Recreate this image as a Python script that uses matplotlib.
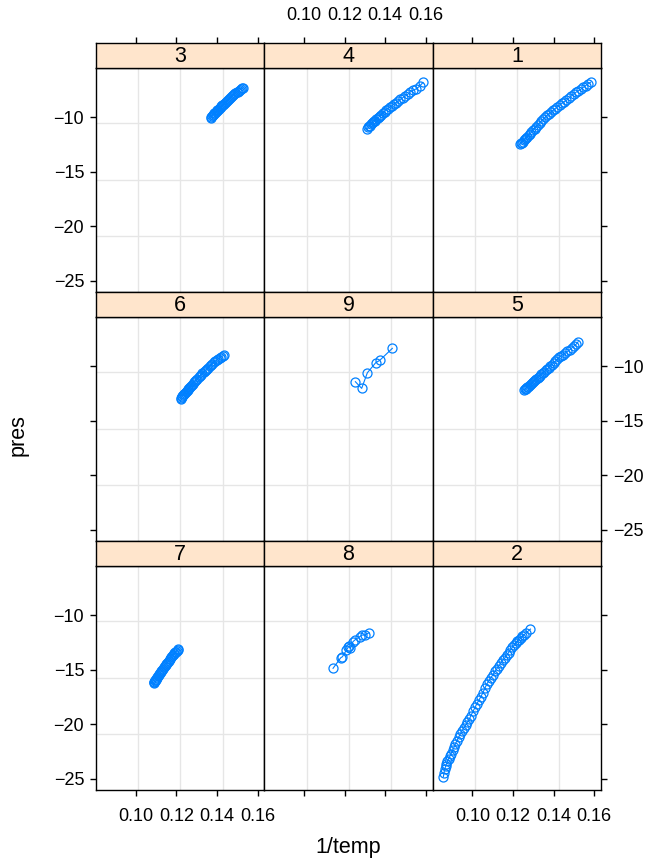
import matplotlib
matplotlib.use("Agg")
import matplotlib.pyplot as plt

plt.rcParams['font.family'] = ['Liberation Sans', 'DejaVu Sans']

# panel order as drawn: top row, middle row, bottom row
panel_order = [['3', '4', '1'], ['6', '9', '5'], ['7', '8', '2']]

# Datos (1/temp, pres) por grupo
x1 = [0.1234, 0.1238, 0.1242, 0.1247, 0.1253, 0.1258, 0.1264, 0.1270, 0.1277, 0.1284,
      0.1291, 0.1298, 0.1306, 0.1314, 0.1322, 0.1331, 0.1340, 0.1349, 0.1358, 0.1367,
      0.1377, 0.1387, 0.1397, 0.1408, 0.1418, 0.1429, 0.1440, 0.1451, 0.1463, 0.1474,
      0.1486, 0.1498, 0.1510, 0.1522, 0.1534, 0.1546, 0.1558, 0.1570, 0.1582]
y1 = [-12.48, -12.40, -12.31, -12.22, -12.10, -12.00, -11.88, -11.77, -11.63, -11.49,
      -11.34, -11.20, -11.03, -10.86, -10.69, -10.50, -10.32, -10.16, -10.00, -9.82,
      -9.67, -9.52, -9.36, -9.19, -9.04, -8.88, -8.70, -8.57, -8.43, -8.25,
      -8.06, -7.87, -7.70, -7.56, -7.42, -7.25, -7.08, -6.93, -6.78]

x2 = [0.0857, 0.0860, 0.0864, 0.0868, 0.0872, 0.0877, 0.0883, 0.0889, 0.0895, 0.0902,
      0.0909, 0.0916, 0.0924, 0.0932, 0.0940, 0.0948, 0.0957, 0.0966, 0.0975, 0.0984,
      0.0993, 0.1003, 0.1013, 0.1022, 0.1032, 0.1042, 0.1052, 0.1061, 0.1071, 0.1081,
      0.1091, 0.1101, 0.1111, 0.1121, 0.1131, 0.1141, 0.1150, 0.1160, 0.1169, 0.1178,
      0.1187, 0.1196, 0.1205, 0.1214, 0.1222, 0.1230, 0.1238, 0.1246, 0.1254, 0.1262,
      0.1286]
y2 = [-24.80, -24.45, -24.10, -23.85, -23.62, -23.40, -23.15, -22.92, -22.70, -22.40,
      -22.12, -21.80, -21.50, -21.18, -20.90, -20.62, -20.36, -20.10, -19.80, -19.55,
      -19.20, -18.80, -18.45, -18.10, -17.78, -17.45, -17.08, -16.70, -16.30, -16.00,
      -15.72, -15.45, -15.15, -14.88, -14.62, -14.36, -14.12, -13.90, -13.68, -13.42,
      -13.18, -12.95, -12.75, -12.55, -12.38, -12.22, -12.08, -11.94, -11.80, -11.65,
      -11.26]

x3 = [0.1370, 0.1373, 0.1376, 0.1379, 0.1382, 0.1385, 0.1388, 0.1391, 0.1395, 0.1398,
      0.1402, 0.1406, 0.1410, 0.1414, 0.1418, 0.1422, 0.1427, 0.1431, 0.1436, 0.1440,
      0.1445, 0.1450, 0.1455, 0.1460, 0.1465, 0.1470, 0.1475, 0.1480, 0.1486, 0.1491,
      0.1497, 0.1502, 0.1508, 0.1514, 0.1520, 0.1526, 0.1530]
y3 = [-10.02, -9.95, -9.88, -9.83, -9.76, -9.70, -9.64, -9.58, -9.50, -9.44,
      -9.37, -9.30, -9.22, -9.13, -9.06, -8.99, -8.90, -8.83, -8.73, -8.64,
      -8.55, -8.48, -8.40, -8.30, -8.20, -8.12, -8.05, -7.95, -7.86, -7.78,
      -7.70, -7.64, -7.56, -7.48, -7.40, -7.34, -7.27]

x4 = [0.1312, 0.1317, 0.1321, 0.1325, 0.1330, 0.1335, 0.1340, 0.1345, 0.1350, 0.1356,
      0.1362, 0.1368, 0.1374, 0.1381, 0.1389, 0.1397, 0.1405, 0.1414, 0.1423, 0.1432,
      0.1442, 0.1452, 0.1463, 0.1474, 0.1486, 0.1498, 0.1511, 0.1524, 0.1538, 0.1553,
      0.1569, 0.1586]
y4 = [-11.10, -10.92, -10.84, -10.75, -10.62, -10.55, -10.46, -10.36, -10.30, -10.18,
      -10.08, -9.97, -9.88, -9.75, -9.62, -9.48, -9.32, -9.20, -9.05, -8.95,
      -8.80, -8.66, -8.52, -8.36, -8.20, -8.06, -7.88, -7.66, -7.52, -7.38,
      -7.15, -6.80]

x5 = [0.1256, 0.1259, 0.1262, 0.1266, 0.1270, 0.1274, 0.1278, 0.1283, 0.1288, 0.1293,
      0.1298, 0.1303, 0.1309, 0.1315, 0.1321, 0.1327, 0.1333, 0.1340, 0.1347, 0.1354,
      0.1361, 0.1368, 0.1376, 0.1384, 0.1392, 0.1400, 0.1409, 0.1418, 0.1427, 0.1437,
      0.1447, 0.1457, 0.1468, 0.1479, 0.1490, 0.1502, 0.1512, 0.1521]
y5 = [-12.20, -12.12, -12.05, -11.98, -11.93, -11.86, -11.80, -11.72, -11.62, -11.55,
      -11.42, -11.33, -11.25, -11.15, -11.05, -10.95, -10.85, -10.72, -10.60, -10.48,
      -10.36, -10.25, -10.12, -9.98, -9.84, -9.68, -9.52, -9.36, -9.18, -9.04,
      -8.92, -8.78, -8.62, -8.48, -8.30, -8.10, -7.95, -7.74]

x6 = [0.1221, 0.1224, 0.1227, 0.1230, 0.1233, 0.1236, 0.1240, 0.1244, 0.1248, 0.1252,
      0.1256, 0.1260, 0.1264, 0.1269, 0.1274, 0.1279, 0.1284, 0.1289, 0.1294, 0.1299,
      0.1304, 0.1310, 0.1316, 0.1322, 0.1328, 0.1334, 0.1340, 0.1346, 0.1352, 0.1358,
      0.1364, 0.1371, 0.1378, 0.1385, 0.1392, 0.1399, 0.1406, 0.1413, 0.1420, 0.1428,
      0.1436]
y6 = [-12.96, -12.88, -12.80, -12.72, -12.66, -12.58, -12.50, -12.42, -12.33, -12.25,
      -12.16, -12.08, -12.02, -11.93, -11.82, -11.70, -11.58, -11.45, -11.32, -11.22,
      -11.12, -11.00, -10.90, -10.78, -10.65, -10.55, -10.45, -10.33, -10.22, -10.12,
      -10.00, -9.88, -9.75, -9.62, -9.52, -9.42, -9.32, -9.22, -9.12, -9.04,
      -8.96]

x7 = [0.1088, 0.1090, 0.1092, 0.1094, 0.1096, 0.1098, 0.1101, 0.1104, 0.1107, 0.1110,
      0.1113, 0.1116, 0.1120, 0.1123, 0.1127, 0.1131, 0.1135, 0.1139, 0.1143, 0.1147,
      0.1151, 0.1155, 0.1159, 0.1163, 0.1167, 0.1171, 0.1175, 0.1179, 0.1183, 0.1187,
      0.1191, 0.1195, 0.1199, 0.1203, 0.1207, 0.1210]
y7 = [-16.25, -16.15, -16.08, -16.02, -15.95, -15.90, -15.82, -15.74, -15.66, -15.58,
      -15.50, -15.42, -15.32, -15.22, -15.12, -15.02, -14.90, -14.78, -14.68, -14.56,
      -14.45, -14.35, -14.25, -14.15, -14.05, -13.96, -13.86, -13.77, -13.67, -13.58,
      -13.48, -13.40, -13.32, -13.24, -13.17, -13.10]

x8 = [0.1143, 0.1181, 0.1189, 0.1209, 0.1217, 0.1222, 0.1228, 0.1241, 0.1250, 0.1274,
      0.1286, 0.1299, 0.1320]
y8 = [-14.86, -13.89, -13.80, -13.18, -12.94, -12.82, -13.03, -12.42, -12.27, -11.96,
      -11.81, -11.81, -11.60]

x9 = [0.1253, 0.1284, 0.1312, 0.1353, 0.1373, 0.1435]
y9 = [-11.41, -12.02, -10.59, -9.67, -9.45, -8.35]

datos = {'1': (x1, y1), '2': (x2, y2), '3': (x3, y3), '4': (x4, y4), '5': (x5, y5),
         '6': (x6, y6), '7': (x7, y7), '8': (x8, y8), '9': (x9, y9)}

x_ticks = [0.10, 0.12, 0.14, 0.16]
y_ticks = [-10, -15, -20, -25]
x_grid = [0.1013, 0.1220, 0.1428]
y_grid = [-10.55, -15.72, -20.85]

azul = '#0080FF'
W, H = 653, 866
fig = plt.figure(figsize=(W / 100, H / 100), dpi=100)

col_left = [96, 264.3, 432.7]
col_w = 168.3
row_top = [42.5, 291.5, 540.5]
strip_h = 25.8
panel_h = 223.2
fs_tick = 13
fs_lab = 15.5

for r in range(3):
    for c in range(3):
        g = panel_order[r][c]
        x, y = datos[g]
        left = col_left[c] / W
        # panel
        ax = fig.add_axes([left, 1 - (row_top[r] + strip_h + panel_h) / H,
                           col_w / W, panel_h / H])
        for v in x_grid:
            ax.axvline(v, color='#E6E6E6', lw=1, zorder=0)
        for v in y_grid:
            ax.axhline(v, color='#E6E6E6', lw=1, zorder=0)
        ax.plot(x, y, color=azul, lw=0.8, marker='o', mfc='none', mec=azul,
                ms=6.5, mew=0.9, zorder=3)
        ax.set_xlim(0.08044, 0.16334)
        ax.set_ylim(-25.98, -5.50)
        for s in ax.spines.values():
            s.set_linewidth(1)
        ax.set_xticks(x_ticks)
        ax.set_yticks(y_ticks)
        ax.tick_params(axis='y', pad=4)
        ax.tick_params(axis='x', pad=9)
        ax.tick_params(direction='out', length=4.5, width=1,
                       labelsize=fs_tick, colors='black',
                       bottom=(r == 2), labelbottom=(r == 2 and c != 1),
                       top=False, labeltop=False,
                       left=(c == 0), labelleft=(c == 0 and r != 1),
                       right=(c == 2), labelright=(c == 2 and r == 1))
        ax.xaxis.set_major_formatter(matplotlib.ticker.FormatStrFormatter('%.2f'))

        # strip
        sax = fig.add_axes([left, 1 - (row_top[r] + strip_h) / H,
                            col_w / W, strip_h / H])
        sax.set_facecolor('#FFE5CC')
        sax.set_xlim(0.08044, 0.16334)
        sax.set_ylim(0, 1)
        sax.set_yticks([])
        sax.set_xticks(x_ticks)
        sax.tick_params(direction='out', length=4.5, width=1, pad=9,
                        labelsize=fs_tick, bottom=False, labelbottom=False,
                        top=(r == 0), labeltop=(r == 0 and c == 1))
        sax.xaxis.set_major_formatter(matplotlib.ticker.FormatStrFormatter('%.2f'))
        for s in sax.spines.values():
            s.set_linewidth(1)
        sax.text(0.5, 0.45, g, transform=sax.transAxes, ha='center', va='center',
                 fontsize=fs_lab)

fig.text(18 / W, 1 - 435 / H, 'pres', rotation=90, ha='center', va='center',
         fontsize=fs_lab)
fig.text(348 / W, 1 - 848 / H, '1/temp', ha='center', va='center', fontsize=fs_lab)

fig.savefig('out.png', dpi=100)
